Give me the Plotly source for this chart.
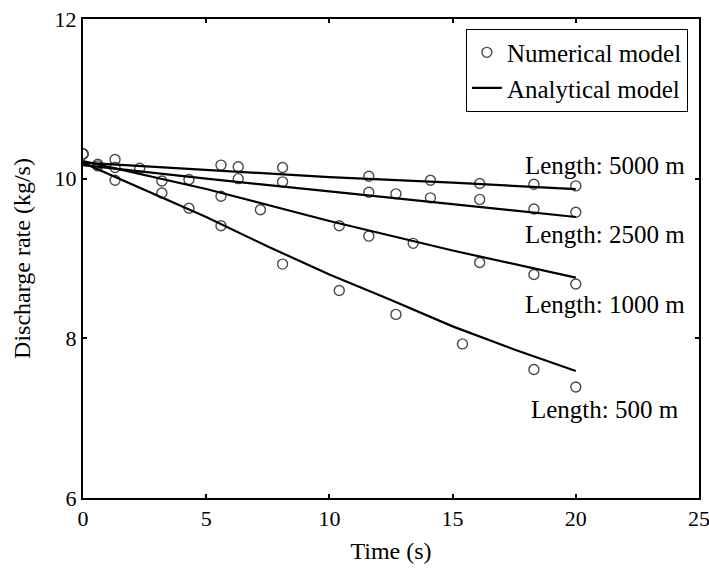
import plotly.graph_objects as go

# ---- Numerical model (circles) ----
t_5000 = [0, 1.3, 5.6, 6.3, 8.1, 11.6, 14.1, 16.1, 18.3, 20]
q_5000 = [10.31, 10.24, 10.17, 10.15, 10.14, 10.03, 9.98, 9.94, 9.93, 9.91]

t_2500 = [0, 0.6, 1.3, 2.3, 4.3, 6.3, 8.1, 11.6, 12.7, 14.1, 16.1, 18.3, 20]
q_2500 = [10.31, 10.18, 10.14, 10.13, 9.99, 10.00, 9.96, 9.83, 9.81, 9.76, 9.74, 9.62, 9.58]

t_1000 = [0, 0.6, 3.2, 5.6, 7.2, 10.4, 11.6, 13.4, 16.1, 18.3, 20]
q_1000 = [10.31, 10.16, 9.97, 9.78, 9.61, 9.41, 9.28, 9.19, 8.95, 8.80, 8.68]

t_500 = [0, 1.3, 3.2, 4.3, 5.6, 8.1, 10.4, 12.7, 15.4, 18.3, 20]
q_500 = [10.31, 9.98, 9.82, 9.63, 9.41, 8.93, 8.60, 8.30, 7.93, 7.61, 7.39]

# ---- Analytical model (lines) ----
ta_5000 = [0, 5, 10, 15, 20]
qa_5000 = [10.20, 10.11, 10.02, 9.95, 9.87]
ta_2500 = [0, 5, 10, 15, 20]
qa_2500 = [10.17, 10.00, 9.84, 9.68, 9.52]
ta_1000 = [0, 5, 10, 15, 20]
qa_1000 = [10.22, 9.87, 9.47, 9.10, 8.76]
ta_500 = [0, 2.5, 5, 7.5, 10, 12.5, 15, 17.5, 20]
qa_500 = [10.20, 9.86, 9.52, 9.15, 8.80, 8.48, 8.15, 7.86, 7.59]

labels = ["Length: 5000 m", "Length: 2500 m", "Length: 1000 m", "Length: 500 m"]
label_x = [21.2, 21.2, 21.2, 21.2]
label_y = [10.17, 9.30, 8.42, 7.11]

FONT = "Liberation Serif, Times New Roman, serif"

num_sets = [(t_5000, q_5000), (t_2500, q_2500), (t_1000, q_1000), (t_500, q_500)]
ana_sets = [(ta_5000, qa_5000), (ta_2500, qa_2500), (ta_1000, qa_1000), (ta_500, qa_500)]

fig = go.Figure()
for i, (t, q) in enumerate(num_sets):
    fig.add_trace(go.Scatter(
        x=t, y=q, mode="markers", name="Numerical model",
        legendgroup="num", showlegend=(i == 0),
        marker=dict(symbol="circle-open", size=10, color="#4a4a4a", line=dict(width=1.4)),
    ))
for i, (t, q) in enumerate(ana_sets):
    fig.add_trace(go.Scatter(
        x=t, y=q, mode="lines", name="Analytical model",
        legendgroup="ana", showlegend=(i == 0),
        line=dict(color="black", width=2.2),
    ))

for txt, x, y in zip(labels, label_x, label_y):
    fig.add_annotation(x=x, y=y, text=txt, showarrow=False,
                       font=dict(family=FONT, size=25, color="black"))

axis_common = dict(
    showline=True, linecolor="black", linewidth=2, mirror="ticks",
    ticks="inside", ticklen=4, tickwidth=1.5, tickcolor="black",
    showgrid=False, zeroline=False, automargin=False,
    ticklabeloverflow="allow",
    tickfont=dict(family=FONT, size=22, color="black"),
)

fig.update_xaxes(range=[0, 25], tickvals=[0, 5, 10, 15, 20, 25],
                 title=dict(text="Time (s)", font=dict(family=FONT, size=24, color="black"), standoff=12),
                 **axis_common)
fig.update_yaxes(range=[6, 12], tickvals=[6, 8, 10, 12],
                 title=dict(text="Discharge rate (kg/s)", font=dict(family=FONT, size=24, color="black"), standoff=17),
                 **axis_common)

fig.update_layout(
    width=709, height=569,
    margin=dict(l=83, r=10, t=19, b=71),
    plot_bgcolor="white", paper_bgcolor="white",
    font=dict(family=FONT, color="black"),
    legend=dict(x=0.982, y=0.98, xanchor="right", yanchor="top",
                bgcolor="white", bordercolor="black", borderwidth=1,
                font=dict(family=FONT, size=25, color="black"),
                tracegroupgap=0),
)

fig.write_html("out.html", config={"displayModeBar": False},
               post_script="document.body.style.margin='0';document.body.style.overflow='hidden';")
